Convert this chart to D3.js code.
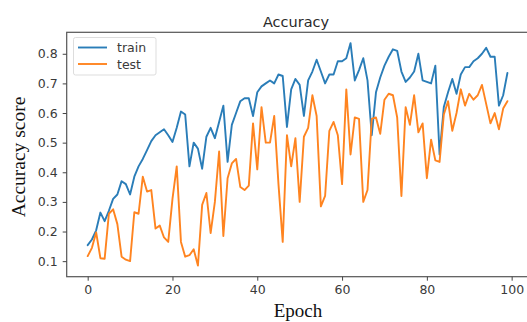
<!DOCTYPE html>
<html>
<head>
<meta charset="utf-8">
<script src="https://cdn.jsdelivr.net/npm/d3@7"></script>
<style>
  html, body { margin: 0; padding: 0; background: #fff; }
  svg { display: block; }
</style>
</head>
<body>
<svg id="chart" width="527" height="322"></svg>
<script>
const epochs = d3.range(0, 100);
const trainAcc = [
  0.154, 0.173, 0.204, 0.264, 0.235, 0.270, 0.310, 0.325, 0.370, 0.360,
  0.325, 0.385, 0.420, 0.445, 0.475, 0.505, 0.525, 0.535, 0.545, 0.525,
  0.502, 0.550, 0.605, 0.595, 0.420, 0.500, 0.480, 0.412, 0.520, 0.550,
  0.515, 0.570, 0.625, 0.435, 0.560, 0.600, 0.640, 0.650, 0.650, 0.590,
  0.670, 0.690, 0.700, 0.710, 0.700, 0.730, 0.725, 0.553, 0.680, 0.715,
  0.695, 0.590, 0.710, 0.740, 0.780, 0.740, 0.700, 0.730, 0.730, 0.775,
  0.775, 0.785, 0.836, 0.710, 0.745, 0.785, 0.710, 0.525, 0.670, 0.720,
  0.760, 0.790, 0.815, 0.810, 0.740, 0.705, 0.720, 0.740, 0.800, 0.710,
  0.705, 0.700, 0.760, 0.460, 0.620, 0.670, 0.715, 0.665, 0.730, 0.755,
  0.755, 0.775, 0.785, 0.800, 0.820, 0.790, 0.790, 0.625, 0.660, 0.735
];
const testAcc = [
  0.117, 0.145, 0.197, 0.110, 0.108, 0.260, 0.275, 0.225, 0.115, 0.105,
  0.100, 0.265, 0.260, 0.385, 0.335, 0.340, 0.210, 0.220, 0.180, 0.165,
  0.310, 0.420, 0.165, 0.115, 0.120, 0.140, 0.085, 0.290, 0.330, 0.195,
  0.300, 0.470, 0.185, 0.380, 0.430, 0.445, 0.350, 0.340, 0.355, 0.565,
  0.410, 0.620, 0.500, 0.500, 0.590, 0.360, 0.165, 0.525, 0.420, 0.515,
  0.300, 0.520, 0.550, 0.660, 0.590, 0.285, 0.320, 0.540, 0.570, 0.525,
  0.360, 0.680, 0.460, 0.585, 0.580, 0.300, 0.340, 0.580, 0.585, 0.530,
  0.645, 0.665, 0.660, 0.585, 0.320, 0.620, 0.560, 0.660, 0.535, 0.565,
  0.380, 0.510, 0.440, 0.435, 0.595, 0.640, 0.540, 0.600, 0.680, 0.625,
  0.665, 0.645, 0.660, 0.695, 0.630, 0.565, 0.600, 0.545, 0.615, 0.640
];
const xTicks = [0, 20, 40, 60, 80, 100];
const yTicks = [0.1, 0.2, 0.3, 0.4, 0.5, 0.6, 0.7, 0.8];
const seriesNames = ["train", "test"];
const seriesColors = ["#2a7db8", "#ff8420"];
const titleText = "Accuracy";
const xLabel = "Epoch";
const yLabel = "Accuracy score";

const svg = d3.select("#chart");
const mLeft = 66.7, mRight = 528.4, mTop = 32.3, mBottom = 276.7;

const x = d3.scaleLinear().domain([-4.95, 103.95]).range([mLeft, mRight]);
const y = d3.scaleLinear().domain([0.0475, 0.8725]).range([mBottom, mTop]);

const tickColor = "#444";
const fontSans = "'DejaVu Sans', sans-serif";
const fontSerif = "'Liberation Serif', 'Times New Roman', serif";

// lines
const line = d3.line().x((d, i) => x(epochs[i])).y(d => y(d));
[trainAcc, testAcc].forEach((series, k) => {
  svg.append("path").datum(series)
    .attr("d", line).attr("fill", "none")
    .attr("stroke", seriesColors[k]).attr("stroke-width", 1.9)
    .attr("stroke-linejoin", "round").attr("stroke-linecap", "round");
});

// frame
svg.append("rect").attr("x", mLeft).attr("y", mTop)
  .attr("width", mRight - mLeft).attr("height", mBottom - mTop)
  .attr("fill", "none").attr("stroke", "#555").attr("stroke-width", 1.2);

// axes
const xAxis = d3.axisBottom(x).tickValues(xTicks).tickSize(4).tickPadding(4).tickFormat(d3.format("d"));
const yAxis = d3.axisLeft(y).tickValues(yTicks).tickSize(4).tickPadding(5).tickFormat(d3.format(".1f"));
const gx = svg.append("g").attr("transform", `translate(0,${mBottom})`).call(xAxis);
const gy = svg.append("g").attr("transform", `translate(${mLeft},0)`).call(yAxis);
[gx, gy].forEach(a => {
  a.select(".domain").remove();
  a.selectAll(".tick line").attr("stroke", tickColor).attr("stroke-width", 1);
  a.selectAll(".tick text").attr("fill", "#3a3a3a").style("font-family", fontSans).style("font-size", "12.5px");
});

// title
svg.append("text").attr("x", 296).attr("y", 27).attr("text-anchor", "middle")
  .style("font-family", fontSans).style("font-size", "14.5px").attr("fill", "#2a2a2a").text(titleText);

// axis labels
svg.append("text").attr("x", 298).attr("y", 317).attr("text-anchor", "middle")
  .style("font-family", fontSerif).style("font-size", "19px")
  .attr("fill", "#111").text(xLabel);
svg.append("text").attr("transform", "translate(24.5,157) rotate(-90)").attr("text-anchor", "middle")
  .style("font-family", fontSerif).style("font-size", "19.5px")
  .attr("fill", "#111").text(yLabel);

// legend
const lg = svg.append("g");
lg.append("rect").attr("x", 73.5).attr("y", 37.5).attr("width", 82.5).attr("height", 37.5).attr("rx", 2)
  .attr("fill", "#fff").attr("fill-opacity", 0.8).attr("stroke", "#ddd").attr("stroke-width", 1);
seriesNames.forEach((name, i) => {
  const yy = 47.5 + i * 16.5;
  lg.append("line").attr("x1", 78).attr("x2", 107).attr("y1", yy).attr("y2", yy)
    .attr("stroke", seriesColors[i]).attr("stroke-width", 1.9);
  lg.append("text").attr("x", 117).attr("y", yy + 4.5).style("font-family", fontSans).style("font-size", "12.5px")
    .attr("fill", "#3a3a3a").text(name);
});
</script>
</body>
</html>
